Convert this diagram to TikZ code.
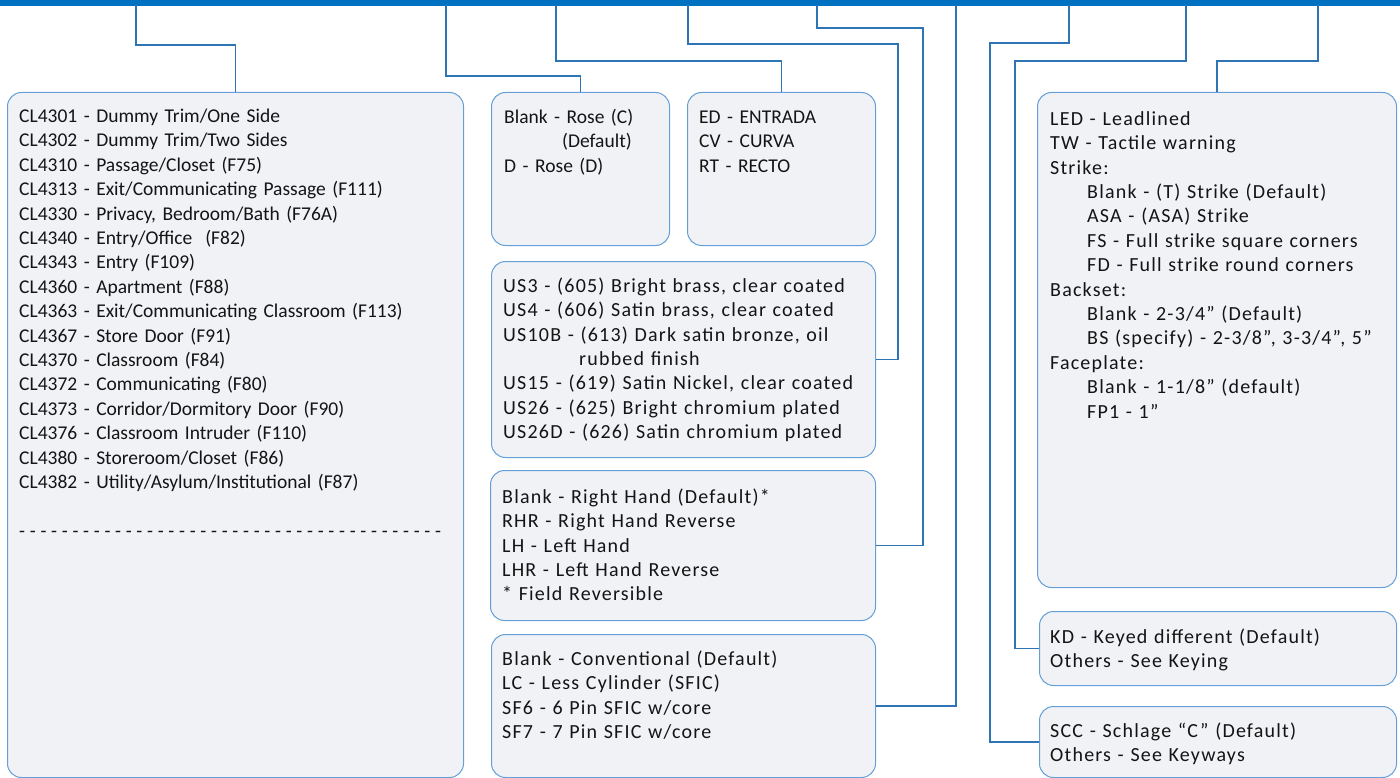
\documentclass[tikz,border=0pt]{standalone}
\usepackage{fontspec}
\setmainfont{Carlito}
\newfontfamily\spacedfont{Carlito}[LetterSpace=6]
\definecolor{barblue}{RGB}{0,112,192}
\definecolor{connblue}{RGB}{46,117,182}
\definecolor{boxborder}{RGB}{100,160,215}
\definecolor{boxfill}{RGB}{240,242,246}
\definecolor{textc}{RGB}{20,20,20}
\newcommand\hfdash{-\hfill}
\newcommand\tenhf{\hfdash\hfdash\hfdash\hfdash\hfdash\hfdash\hfdash\hfdash\hfdash\hfdash}
\begin{document}
\begin{tikzpicture}[x=1pt,y=-1pt,
  box/.style={draw=boxborder, fill=boxfill, rounded corners=14pt, line width=1pt, inner sep=0pt, anchor=north west},
  conn/.style={draw=connblue, line width=1.4pt},
  txt/.style={anchor=north west, inner sep=0pt, align=left, text=textc, font=\fontsize{19.5}{24.4}\selectfont},
  stxt/.style={txt, font=\spacedfont\fontsize{20}{24.4}\selectfont}]
\useasboundingbox (0,0) rectangle (1400,778);
\node[fill=barblue, inner sep=0pt, minimum width=1400pt, minimum height=6pt, anchor=north west] (bar) at (0,0) {};

% boxes
\node[box, minimum width=456pt, minimum height=685pt] (left) at (7,92) {};
\node[box, minimum width=178pt, minimum height=153pt] (rose) at (491,92) {};
\node[box, minimum width=188pt, minimum height=153pt] (ed) at (687,92) {};
\node[box, minimum width=384pt, minimum height=196pt] (us) at (491,261) {};
\node[box, minimum width=385pt, minimum height=150pt] (hand) at (490,470) {};
\node[box, minimum width=384pt, minimum height=143pt] (cyl) at (491,634) {};
\node[box, minimum width=359pt, minimum height=495pt] (led) at (1037,92) {};
\node[box, minimum width=357pt, minimum height=74pt] (kd) at (1039,611) {};
\node[box, minimum width=357pt, minimum height=71pt] (scc) at (1039,706) {};

% connector start points on the bar
\coordinate (c1) at (136,5);
\coordinate (c2) at (446,5);
\coordinate (c3) at (556,5);
\coordinate (c4) at (688,5);
\coordinate (c5) at (817,5);
\coordinate (c6) at (956,5);
\coordinate (c7) at (1069,5);
\coordinate (c8) at (1186,5);
\coordinate (c9) at (1318,5);

\draw[conn] (c1) -- (136,45) -| (left.north);
\draw[conn] (c2) -- (446,76) -| (rose.north);
\draw[conn] (c3) -- (556,61) -| (ed.north);
\draw[conn] (c4) -- (688,44) -- (898,44) |- (us.east);
\draw[conn] (c5) -- (817,28) -- (923,28) |- (hand.east);
\draw[conn] (c6) |- (cyl.east);
\draw[conn] (c7) -- (1069,43) -- (990,43) |- (scc.west);
\draw[conn] (c8) -- (1186,61) -- (1015,61) |- (kd.west);
\draw[conn] (c9) -- (1318,61) -| (led.north);

% texts
\node[txt, text width=440pt] (lefttext) at (19,105.2) {\strut CL4301 - Dummy Trim/One Side\\
CL4302 - Dummy Trim/Two Sides\\
CL4310 - Passage/Closet (F75)\\
CL4313 - Exit/Communicating Passage (F111)\\
CL4330 - Privacy, Bedroom/Bath (F76A)\\
CL4340 - Entry/Office\ \ (F82)\\
CL4343 - Entry (F109)\\
CL4360 - Apartment (F88)\\
CL4363 - Exit/Communicating Classroom (F113)\\
CL4367 - Store Door (F91)\\
CL4370 - Classroom (F84)\\
CL4372 - Communicating (F80)\\
CL4373 - Corridor/Dormitory Door (F90)\\
CL4376 - Classroom Intruder (F110)\\
CL4380 - Storeroom/Closet (F86)\\
CL4382 - Utility/Asylum/Institutional (F87)\\
\mbox{}\\
\hbox to 422pt{\tenhf\tenhf\tenhf\hfdash\hfdash\hfdash\hfdash\hfdash\hfdash\hfdash\hfdash\hfdash-}};

\node[txt, text width=170pt] (rosetext) at (504,106) {\strut Blank - Rose (C)\\
\hspace*{58pt}(Default)\\
D - Rose (D)};

\node[txt, text width=170pt] (edtext) at (699,106) {\strut ED - ENTRADA\\
CV - CURVA\\
RT - RECTO};

\node[stxt, text width=380pt] (ustext) at (503,275) {\strut US3 - (605) Bright brass, clear coated\\
US4 - (606) Satin brass, clear coated\\
US10B - (613) Dark satin bronze, oil\\
\hspace*{76pt}rubbed finish\\
US15 - (619) Satin Nickel, clear coated\\
US26 - (625) Bright chromium plated\\
US26D - (626) Satin chromium plated};

\node[stxt, text width=370pt] (handtext) at (502,486) {\strut Blank - Right Hand (Default)*\\
RHR - Right Hand Reverse\\
LH - Left Hand\\
LHR - Left Hand Reverse\\
\relax * Field Reversible};

\node[stxt, text width=370pt] (cyltext) at (502,648) {\strut Blank - Conventional (Default)\\
LC - Less Cylinder (SFIC)\\
SF6 - 6 Pin SFIC w/core\\
SF7 - 7 Pin SFIC w/core};

\node[stxt, text width=345pt] (ledtext) at (1050,108) {\strut LED - Leadlined\\
TW - Tactile warning\\
Strike:\\
\hspace*{37pt}Blank - (T) Strike (Default)\\
\hspace*{37pt}ASA - (ASA) Strike\\
\hspace*{37pt}FS - Full strike square corners\\
\hspace*{37pt}FD - Full strike round corners\\
Backset:\\
\hspace*{37pt}Blank - 2-3/4” (Default)\\
\hspace*{37pt}BS (specify) - 2-3/8”, 3-3/4”, 5”\\
Faceplate:\\
\hspace*{37pt}Blank - 1-1/8” (default)\\
\hspace*{37pt}FP1 - 1”};

\node[stxt, text width=345pt] (kdtext) at (1050,626) {\strut KD - Keyed different (Default)\\
Others - See Keying};

\node[stxt, text width=345pt] (scctext) at (1050,720) {\strut SCC - Schlage “C” (Default)\\
Others - See Keyways};
\end{tikzpicture}
\end{document}
